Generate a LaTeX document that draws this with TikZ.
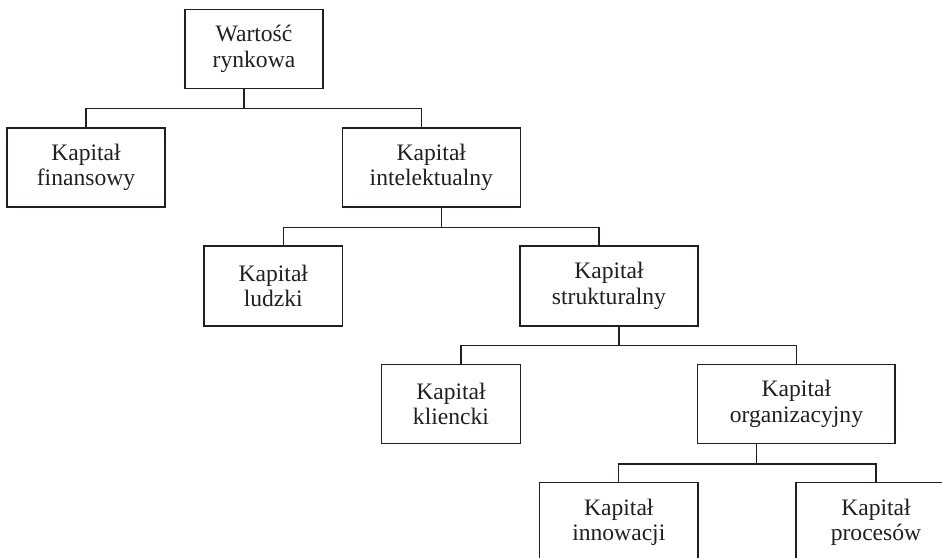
\documentclass[tikz,border=0pt]{standalone}
\usepackage{fontspec}
\setmainfont{Liberation Serif}
\definecolor{ink}{HTML}{231F20}
\begin{document}
\begin{tikzpicture}[x=1pt,y=-1pt,
  box/.style={draw=ink, line width=1.3pt, inner sep=0pt, align=center,
    text=ink, font=\fontsize{23.6}{25.3}\selectfont, minimum height=79pt},
  link/.style={draw=ink, line width=1.3pt}]
\fill[white] (0,0) rectangle (942,557);
\useasboundingbox (0,0) rectangle (942,557);
\clip (0,0) rectangle (942,557);

% boxes of the hierarchy
\node[box, minimum width=138pt]   (wr)  at (254,48.7)   {Wartość\\rynkowa};
\node[box, minimum width=158pt]   (fin) at (86,167.5)   {Kapitał\\finansowy};
\node[box, minimum width=178pt]   (int) at (431.3,167.5) {Kapitał\\intelektualny};
\node[box, minimum width=138.7pt, minimum height=80pt] (lud) at (273.3,286) {Kapitał\\ludzki};
\node[box, minimum width=178pt, minimum height=80pt]   (str) at (609,286)   {Kapitał\\strukturalny};
\node[box, minimum width=139pt]   (kli) at (451,403.8)  {Kapitał\\kliencki};
\node[box, minimum width=197.3pt] (org) at (796.4,403.8) {Kapitał\\organizacyjny};
\node[box, minimum width=158.5pt] (inn) at (618.8,522.2) {Kapitał\\innowacji};
\node[box, minimum width=160pt]   (pro) at (876,522.2)  {Kapitał\\procesów};

% junctions on the horizontal bars
\path ([xshift=-10pt]wr.south)  ++(0,19.5) coordinate (b1);
\path ([xshift=10.2pt]int.south) ++(0,19.6) coordinate (b2);
\path ([xshift=10pt]str.south)  ++(0,19)   coordinate (b3);
\path ([xshift=-39.7pt]org.south) ++(0,20) coordinate (b4);

% connectors
\draw[link] ([xshift=-10pt]wr.south) -- (b1);
\draw[link] (fin.north) |- (b1) -| ([xshift=-9.6pt]int.north);

\draw[link] ([xshift=10.2pt]int.south) -- (b2);
\draw[link] ([xshift=10pt]lud.north) |- (b2) -| ([xshift=-10pt]str.north);

\draw[link] ([xshift=10pt]str.south) -- (b3);
\draw[link] ([xshift=10pt]kli.north) |- (b3) -| (org.north);

\draw[link] ([xshift=-39.7pt]org.south) -- (b4);
\draw[link] (inn.north) |- (b4) -| (pro.north);
\end{tikzpicture}
\end{document}
